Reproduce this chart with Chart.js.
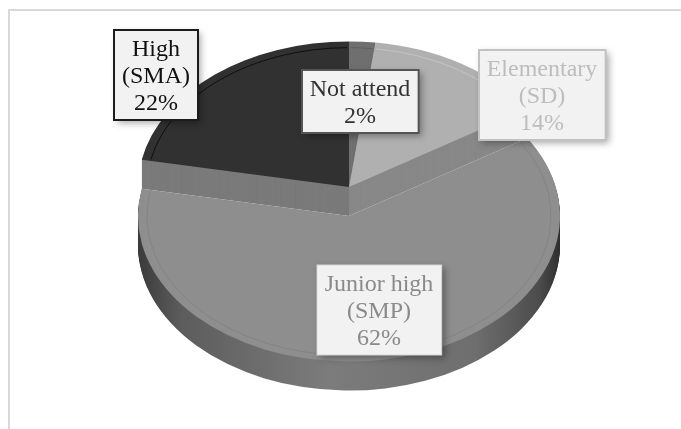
<!DOCTYPE html>
<html><head><meta charset="utf-8">
<script src="https://cdn.jsdelivr.net/npm/chart.js@4.4.1/dist/chart.umd.min.js"></script>
<style>html,body{margin:0;padding:0;background:#fff;overflow:hidden}#wrap{width:681px;height:429px;position:relative}</style>
</head><body><div id="wrap"><canvas id="c"></canvas></div>
<script>
// ---- data ----
const categories = ['Not attend', 'Elementary (SD)', 'Junior high (SMP)', 'High (SMA)'];
const labelNames = [['Not attend'], ['Elementary', '(SD)'], ['Junior high', '(SMP)'], ['High', '(SMA)']];
const shares = [2, 14, 62, 22];

// ---- styles ----
const topColors = ['#6f6f6f', '#b0b0b0', '#8e8e8e', '#313131'];
const sideColors = ['#666666', '#888888', null, '#7a7a7a'];
const bevelColors = ['rgba(0,0,0,0.15)', 'rgba(255,255,255,0.25)', 'rgba(0,0,0,0.08)', 'rgba(0,0,0,0.7)'];
const explodeY = [0, 0, 29, 0];
const labelStyle = [
  {pos: [360, 101], border: '#555555', bw: 2, text: '#333333'},
  {pos: [542, 95], border: '#c2c2c2', bw: 2, text: '#bdbdbd'},
  {pos: [379, 310], border: '#d6d6d6', bw: 1, text: '#8a8a8a'},
  {pos: [156, 75], border: '#1c1c1c', bw: 2, text: '#111111'}
];
const CX = 349, CY = 187, K = 0.69, DEPTH = 29, R = 211;
const FONT = '24px "Liberation Serif", "Times New Roman", serif';

function setT(ctx, a, dy) { ctx.setTransform(1, 0, 0, K, CX - a.x, CY + dy - K * a.y); }
function slicePath(ctx, a) {
  ctx.beginPath(); ctx.moveTo(a.x, a.y);
  ctx.arc(a.x, a.y, a.outerRadius, a.startAngle, a.endAngle);
  ctx.closePath();
}

const pie3d = {
  id: 'pie3d',
  beforeDraw(chart) {
    const ctx = chart.ctx;
    ctx.save();
    ctx.strokeStyle = '#d9d9d9'; ctx.lineWidth = 2;
    ctx.strokeRect(9, 10, 720, 460);
    ctx.restore();
  },
  beforeDatasetsDraw(chart) {
    const ctx = chart.ctx;
    const arcs = chart.getDatasetMeta(0).data;
    const order = [0, 1, 3, 2];
    // sides
    order.forEach(i => {
      const a = arcs[i];
      for (let d = DEPTH; d >= 1; d--) {
        ctx.save();
        setT(ctx, a, explodeY[i] + d);
        if (sideColors[i]) ctx.fillStyle = sideColors[i];
        else {
          const g = ctx.createLinearGradient(a.x - a.outerRadius, 0, a.x + a.outerRadius, 0);
          g.addColorStop(0, '#3a3a3a'); g.addColorStop(0.1, '#5c5c5c');
          g.addColorStop(0.45, '#7c7c7c'); g.addColorStop(0.8, '#6e6e6e');
          g.addColorStop(0.95, '#4c4c4c'); g.addColorStop(1, '#2e2e2e');
          ctx.fillStyle = g;
        }
        slicePath(ctx, a); ctx.fill();
        ctx.restore();
      }
    });
    // tops
    order.forEach(i => {
      const a = arcs[i];
      ctx.save();
      setT(ctx, a, explodeY[i]);
      ctx.fillStyle = a.options.backgroundColor;
      slicePath(ctx, a); ctx.fill();
      ctx.beginPath();
      ctx.arc(a.x, a.y, a.outerRadius - 9, a.startAngle + 0.01, a.endAngle - 0.01);
      ctx.setTransform(1, 0, 0, 1, 0, 0);
      ctx.strokeStyle = bevelColors[i];
      ctx.lineWidth = 1;
      ctx.stroke();
      ctx.restore();
    });
    return false;
  },
  afterDraw(chart) {
    const ctx = chart.ctx;
    ctx.save();
    ctx.font = FONT;
    ctx.textAlign = 'center'; ctx.textBaseline = 'middle';
    const LH = 27;
    labelNames.forEach((names, i) => {
      const lines = names.concat([shares[i] + '%']);
      const st = labelStyle[i];
      const w = Math.max(...lines.map(l => ctx.measureText(l).width)) + 16;
      const h = lines.length * LH + 9;
      const x = Math.round(st.pos[0] - w / 2), y = Math.round(st.pos[1] - h / 2);
      ctx.save();
      ctx.shadowColor = 'rgba(0,0,0,0.35)'; ctx.shadowBlur = 7;
      ctx.shadowOffsetX = 3; ctx.shadowOffsetY = 3;
      ctx.fillStyle = '#f2f2f2';
      ctx.fillRect(x, y, w, h);
      ctx.restore();
      ctx.strokeStyle = st.border; ctx.lineWidth = st.bw;
      ctx.strokeRect(x, y, w, h);
      ctx.fillStyle = st.text;
      lines.forEach((l, j) => {
        ctx.fillText(l, st.pos[0], st.pos[1] - (lines.length - 1) * LH / 2 + j * LH + 2);
      });
    });
    ctx.restore();
  }
};

new Chart(document.getElementById('c'), {
  type: 'pie',
  data: {
    labels: categories,
    datasets: [{ data: shares, backgroundColor: topColors, borderWidth: 0, radius: R }]
  },
  options: {
    responsive: true, maintainAspectRatio: false, animation: false,
    plugins: { legend: { display: false }, tooltip: { enabled: false } },
    events: []
  },
  plugins: [pie3d]
});
</script></body></html>
